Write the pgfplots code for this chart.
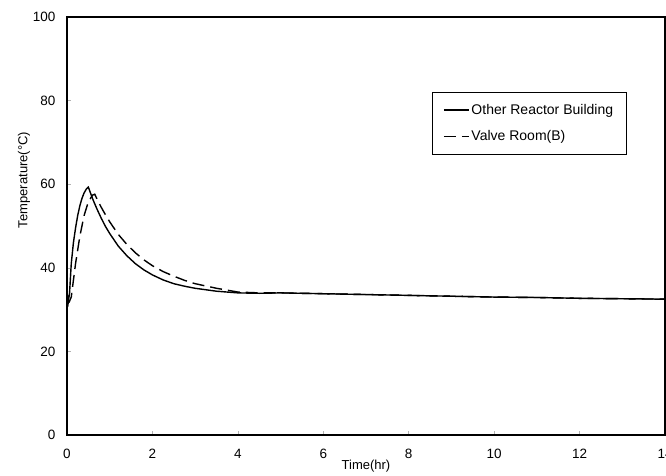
\documentclass[border=0pt]{standalone}
\usepackage{fontspec}
\setmainfont{Liberation Sans}
\usepackage{pgfplots}
\pgfplotsset{compat=1.18}
\begin{document}
\begin{tikzpicture}[x=1pt,y=1pt]
\useasboundingbox (0,0) rectangle (666,475);
\begin{axis}[
  at={(67pt,40pt)}, anchor=south west,
  scale only axis, width=598pt, height=418pt,
  xmin=0, xmax=14, ymin=0, ymax=100,
  xtick={0,2,...,14}, ytick={0,20,...,100},
  tick align=inside, xtick pos=bottom, ytick pos=left,
  major tick length=4pt,
  tick style={gray!60, line width=0.6pt},
  axis line style={line width=1.3pt},
  /pgf/number format/assume math mode=true,
  ticklabel style={font=\fontsize{13.5}{15}\selectfont},
  xticklabel style={yshift=-11pt},
  yticklabel style={xshift=-8pt},
  xlabel={Time(hr)}, ylabel={Temperature(°C)},
  label style={font=\fontsize{13}{15}\selectfont},
  xlabel style={at={(axis description cs:0.5,0)}, anchor=center, yshift=-31pt},
  ylabel style={at={(axis description cs:0,0.61)}, anchor=center, yshift=43pt},
  legend style={at={(axis description cs:0.610,0.821)}, anchor=north west,
    draw=black, line width=0.6pt, font=\fontsize{14}{16}\selectfont,
    inner xsep=11pt, inner ysep=10pt, row sep=11pt},
  legend cell align=left,
  legend image code/.code={\draw[#1, line width=1.4pt] (0pt,0pt) -- (25pt,0pt);},
]
\addplot[black, line width=1.4pt] coordinates {
(0,34) (0.03,31.8) (0.06,34) (0.1,41) (0.15,46) (0.2,49.5) (0.25,52.5) (0.3,54.8)
(0.35,56.6) (0.4,57.9) (0.45,58.8) (0.5,59.3) (0.6,56.5) (0.7,54.1) (0.8,51.9)
(0.9,49.9) (1.0,48.2) (1.2,45.2) (1.4,42.9) (1.6,41.0) (1.8,39.5) (2.0,38.3)
(2.25,37.1) (2.5,36.2) (2.75,35.6) (3.0,35.1) (3.5,34.4) (4.0,34.0) (4.5,33.9)
(5,34.0) (6,33.8) (7,33.6) (8,33.4) (9,33.2) (10,33.0) (11,32.9) (12,32.7) (13,32.6) (14,32.5)
};
\addlegendentry{Other Reactor Building}
\addplot[black, line width=1.4pt, dash pattern=on 12pt off 6pt] coordinates {
(0,32) (0.05,31.8) (0.1,33) (0.15,37) (0.2,41) (0.3,47.5) (0.4,52.5) (0.5,55.8)
(0.6,57.4) (0.65,57.6) (0.7,56.5) (0.8,54.5) (0.9,52.7) (1.0,51.0) (1.2,48.0)
(1.4,45.6) (1.6,43.6) (1.8,41.9) (2.0,40.5) (2.25,39.1) (2.5,38.0) (2.75,37.0)
(3.0,36.2) (3.5,35.1) (4.0,34.2) (4.5,34.0) (5,34.0) (6,33.8) (7,33.6) (8,33.4)
(9,33.2) (10,33.0) (11,32.9) (12,32.7) (13,32.6) (14,32.5)
};
\addlegendentry{Valve Room(B)}
\end{axis}
\end{tikzpicture}
\end{document}
